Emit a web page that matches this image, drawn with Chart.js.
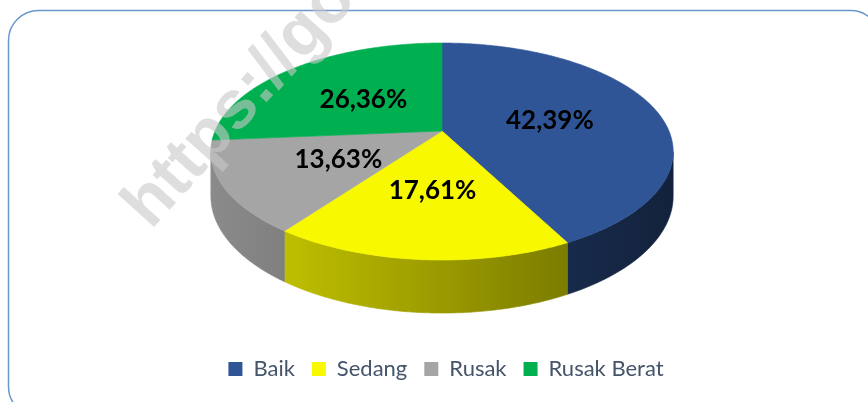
<!DOCTYPE html>
<html>
<head>
<meta charset="utf-8">
<script src="https://cdn.jsdelivr.net/npm/chart.js@4.4.1/dist/chart.umd.min.js"></script>
<style>
  body { margin: 0; background: #fff; }
  #wrap { width: 868px; height: 402px; position: relative; }
</style>
</head>
<body>
<div id="wrap"><canvas id="kondisi-chart"></canvas></div>
<script>
// data
const categories = ['Baik', 'Sedang', 'Rusak', 'Rusak Berat'];
const percentages = [42.39, 17.61, 13.63, 26.36];
const sliceColors = ['#2F5597', '#F8F800', '#A5A5A5', '#00B050'];

// 3d look
const PIE_RADIUS = 227;   // horizontal half width of the top face
const PIE_SHIFT = -4;     // pie sits a little left of the legend centre
const TILT = 0.461;       // vertical squash of the top face
const PERSP = -0.189;     // perspective, front grows / back shrinks
const DEPTH = 43;         // height of the side wall
const LABEL_POS = 0.5;    // label distance from centre (0..1)

function shade(hex, f) {
    const n = parseInt(hex.slice(1), 16);
    const r = Math.round(((n >> 16) & 255) * f);
    const g = Math.round(((n >> 8) & 255) * f);
    const b = Math.round((n & 255) * f);
    return 'rgb(' + r + ',' + g + ',' + b + ')';
}

function project(geo, ang, r) {
    const X = r * Math.cos(ang);
    const Z = r * Math.sin(ang);
    const k = 1 + PERSP * Z;
    return { x: geo.cx + geo.R * X / k, y: geo.cy + geo.R * TILT * Z / k, k: k };
}

function pieGeometry(chart) {
    const area = chart.chartArea;
    const R = PIE_RADIUS;
    return { cx: (area.left + area.right) / 2 + PIE_SHIFT, cy: area.top + R * TILT / (1 - PERSP), R: R };
}

const frameAndMark = {
    id: 'frameAndMark',
    beforeDraw(chart) {
        const ctx = chart.ctx;
        ctx.save();
        ctx.fillStyle = '#fff';
        ctx.fillRect(0, 0, chart.width, chart.height);
        ctx.strokeStyle = '#6a98cc';
        ctx.lineWidth = 1.5;
        ctx.beginPath();
        ctx.roundRect(8.5, 10.5, 872, 406, 30);
        ctx.stroke();
        ctx.restore();
    },
    afterDraw(chart) {
        // watermark
        const ctx = chart.ctx;
        ctx.save();
        ctx.translate(137, 218);
        ctx.rotate(-48 * Math.PI / 180);
        ctx.font = 'bold 68px "Liberation Sans", Arial, sans-serif';
        ctx.fillStyle = 'rgba(200,200,200,0.6)';
        ctx.fillText('https://goo.gl', 0, 0);
        ctx.restore();
    }
};

const pie3d = {
    id: 'pie3d',
    beforeDatasetsDraw(chart) {
        const ctx = chart.ctx;
        const meta = chart.getDatasetMeta(0);
        const geo = pieGeometry(chart);
        const lo = Math.asin(-PERSP), hi = Math.PI - lo;
        const step = 0.01;

        ctx.save();
        // side walls (front half only)
        meta.data.forEach((arc, i) => {
            const a = Math.max(arc.startAngle, lo);
            const b = Math.min(arc.endAngle, hi);
            if (b <= a) return;
            const grad = ctx.createLinearGradient(geo.cx - geo.R * 1.02, 0, geo.cx + geo.R * 1.02, 0);
            grad.addColorStop(0, shade(sliceColors[i], 0.84));
            grad.addColorStop(1, shade(sliceColors[i], 0.40));
            ctx.beginPath();
            for (let t = a; t < b; t += step) {
                const p = project(geo, t, 1);
                ctx.lineTo(p.x, p.y);
            }
            let p = project(geo, b, 1);
            ctx.lineTo(p.x, p.y);
            ctx.lineTo(p.x, p.y + DEPTH / p.k);
            for (let t = b; t > a; t -= step) {
                p = project(geo, t, 1);
                ctx.lineTo(p.x, p.y + DEPTH / p.k);
            }
            p = project(geo, a, 1);
            ctx.lineTo(p.x, p.y + DEPTH / p.k);
            ctx.closePath();
            ctx.fillStyle = grad;
            ctx.fill();
            ctx.strokeStyle = grad;
            ctx.lineWidth = 0.6;
            ctx.stroke();
        });

        // top faces
        meta.data.forEach((arc, i) => {
            const c = project(geo, 0, 0);
            ctx.beginPath();
            ctx.moveTo(c.x, c.y);
            for (let t = arc.startAngle; t < arc.endAngle; t += step) {
                const p = project(geo, t, 1);
                ctx.lineTo(p.x, p.y);
            }
            const e = project(geo, arc.endAngle, 1);
            ctx.lineTo(e.x, e.y);
            ctx.closePath();
            ctx.fillStyle = sliceColors[i];
            ctx.fill();
            ctx.strokeStyle = sliceColors[i];
            ctx.lineWidth = 0.6;
            ctx.stroke();
        });

        // value labels
        ctx.font = 'bold 26px Lato, "Open Sans", sans-serif';
        ctx.fillStyle = '#000';
        ctx.textAlign = 'center';
        ctx.textBaseline = 'middle';
        meta.data.forEach((arc, i) => {
            const mid = (arc.startAngle + arc.endAngle) / 2;
            const p = project(geo, mid, LABEL_POS);
            ctx.fillText(percentages[i].toFixed(2).replace('.', ',') + '%', p.x, p.y + 2);
        });
        ctx.restore();
        return false;
    }
};

const ctx = document.getElementById('kondisi-chart').getContext('2d');
window.kondisiChart = new Chart(ctx, {
    type: 'pie',
    data: {
        labels: categories,
        datasets: [{
            data: percentages,
            backgroundColor: sliceColors,
            borderWidth: 0
        }]
    },
    options: {
        responsive: true,
        maintainAspectRatio: false,
        animation: false,
        layout: { padding: { left: 24, right: 0, top: 43, bottom: 12 } },
        plugins: {
            legend: {
                position: 'bottom',
                labels: {
                    boxWidth: 14,
                    boxHeight: 14,
                    padding: 17,
                    color: '#44546A',
                    font: { family: 'Lato', size: 22 }
                }
            },
            tooltip: { enabled: false }
        }
    },
    plugins: [frameAndMark, pie3d]
});
</script>
</body>
</html>
